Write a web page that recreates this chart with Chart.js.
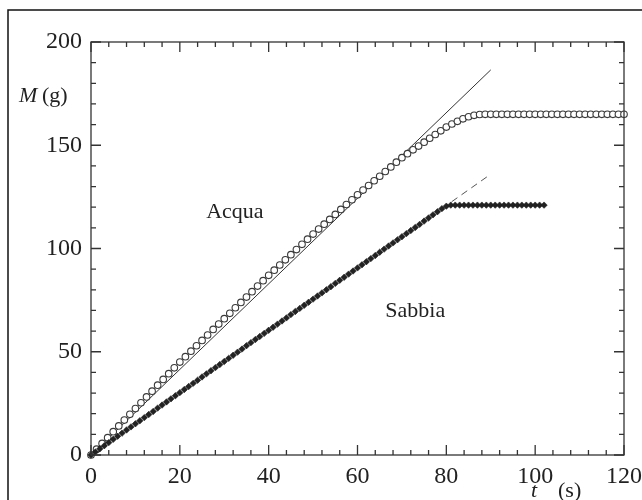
<!DOCTYPE html>
<html>
<head>
<meta charset="utf-8">
<script src="https://cdn.jsdelivr.net/npm/chart.js@4"></script>
<style>
  body { margin: 0; background: #fff; }
  #myChart { display: block; }
</style>
</head>
<body>
<canvas id="myChart" width="642" height="500"></canvas>
<script>
// dati
const xTicks = [0, 20, 40, 60, 80, 100, 120];
const yTicks = [0, 50, 100, 150, 200];
const xMinorStep = 4;
const yMinorStep = 10;

// Acqua: un punto ogni 1.25 s
const acquaStep = 1.25;
const acquaM = [
  0, 2.8, 5.6, 8.4, 11.3, 14.1, 16.9, 19.7, 22.5, 25.3, 28.1, 30.9, 33.8, 36.6, 39.4, 42.2,
  45.0, 47.6, 50.3, 52.9, 55.5, 58.1, 60.8, 63.4, 66.0, 68.6, 71.3, 73.9, 76.5, 79.1, 81.8, 84.4,
  87.0, 89.5, 92.0, 94.5, 97.0, 99.5, 102.0, 104.5, 107.0, 109.4, 111.8, 114.1, 116.5, 118.9, 121.3, 123.6,
  126.0, 128.3, 130.5, 132.8, 135.0, 137.3, 139.5, 141.8, 144.0, 145.9, 147.8, 149.6, 151.5, 153.4, 155.2, 157.0,
  158.8, 160.3, 161.6, 162.8, 163.8, 164.5, 164.9, 165, 165, 165, 165, 165, 165, 165, 165, 165,
  165, 165, 165, 165, 165, 165, 165, 165, 165, 165, 165, 165, 165, 165, 165, 165, 165
];

// Sabbia: un punto al secondo
const sabbiaStep = 1;
const sabbiaM = [
  0, 1.5, 3.0, 4.5, 6.0, 7.6, 9.1, 10.6, 12.1, 13.6, 15.1, 16.6, 18.1, 19.6, 21.1, 22.7,
  24.2, 25.7, 27.2, 28.7, 30.2, 31.7, 33.2, 34.7, 36.2, 37.8, 39.3, 40.8, 42.3, 43.8, 45.3, 46.8,
  48.3, 49.8, 51.3, 52.9, 54.4, 55.9, 57.4, 58.9, 60.4, 61.9, 63.4, 64.9, 66.4, 68.0, 69.5, 71.0,
  72.5, 74.0, 75.5, 77.0, 78.5, 80.0, 81.5, 83.1, 84.6, 86.1, 87.6, 89.1, 90.6, 92.1, 93.6, 95.1,
  96.6, 98.2, 99.7, 101.2, 102.7, 104.2, 105.7, 107.2, 108.7, 110.2, 111.7, 113.3, 114.8, 116.3, 117.8, 119.3,
  120.5, 121, 121, 121, 121, 121, 121, 121, 121, 121, 121, 121, 121, 121, 121, 121,
  121, 121, 121, 121, 121, 121, 121
];

// rette di fit
const acquaFitT = [0, 90];
const acquaFitM = [0, 186.5];
const sabbiaFitT = [79, 90];
const sabbiaFitM = [119.3, 136];

const labels = [
  { text: 'Acqua', t: 32.4, m: 117.5 },
  { text: 'Sabbia', t: 73, m: 69.5 }
];

const serif = '"Liberation Serif", "DejaVu Serif", serif';

function toPoints(step, vals){
  return vals.map((v, i) => ({ x: i * step, y: v }));
}
function pairPoints(ts, ms){
  return ts.map((t, i) => ({ x: t, y: ms[i] }));
}

// cornice, tacche interne e testi
const decor = {
  id: 'decor',
  beforeDraw(chart){
    const ctx = chart.ctx;
    ctx.save();
    ctx.strokeStyle = '#111';
    ctx.lineWidth = 1.5;
    ctx.beginPath();
    ctx.moveTo(8, 500);
    ctx.lineTo(8, 10);
    ctx.lineTo(642, 10);
    ctx.stroke();
    ctx.restore();
  },
  afterDatasetsDraw(chart){
    const ctx = chart.ctx;
    const a = chart.chartArea;
    const xs = chart.scales.x, ys = chart.scales.y;
    ctx.save();
    ctx.strokeStyle = '#333';
    ctx.lineWidth = 1.3;
    ctx.strokeRect(a.left, a.top, a.right - a.left, a.bottom - a.top);
    ctx.beginPath();
    for (let v = xs.min; v <= xs.max; v += xMinorStep){
      const p = xs.getPixelForValue(v);
      const len = xTicks.includes(v) ? 10 : 5;
      ctx.moveTo(p, a.bottom); ctx.lineTo(p, a.bottom - len);
      ctx.moveTo(p, a.top); ctx.lineTo(p, a.top + len);
    }
    for (let v = ys.min; v <= ys.max; v += yMinorStep){
      const p = ys.getPixelForValue(v);
      const len = yTicks.includes(v) ? 10 : 5;
      ctx.moveTo(a.left, p); ctx.lineTo(a.left + len, p);
      ctx.moveTo(a.right, p); ctx.lineTo(a.right - len, p);
    }
    ctx.stroke();

    ctx.fillStyle = '#222';
    ctx.textBaseline = 'middle';
    ctx.textAlign = 'center';
    ctx.font = '22px ' + serif;
    labels.forEach(l => {
      ctx.fillText(l.text, xs.getPixelForValue(l.t), ys.getPixelForValue(l.m));
    });

    // titoli degli assi
    ctx.textAlign = 'left';
    ctx.font = 'italic 22px ' + serif;
    ctx.fillText('M', 19, 96);
    ctx.font = '22px ' + serif;
    ctx.fillText('(g)', 42, 96);
    ctx.font = 'italic 22px ' + serif;
    ctx.fillText('t', 531, 491);
    ctx.font = '22px ' + serif;
    ctx.fillText('(s)', 558, 491);
    ctx.restore();
  }
};

const ctx = document.getElementById('myChart').getContext('2d');

const myChart = new Chart(ctx, {
  type: 'scatter',
  data: {
    datasets: [
      {
        data: pairPoints(acquaFitT, acquaFitM),
        showLine: true,
        borderColor: '#333',
        borderWidth: 1,
        pointRadius: 0,
        order: 3
      },
      {
        data: pairPoints(sabbiaFitT, sabbiaFitM),
        showLine: true,
        borderColor: '#555',
        borderWidth: 1,
        borderDash: [7, 5],
        pointRadius: 0,
        order: 3
      },
      {
        data: toPoints(acquaStep, acquaM),
        pointStyle: 'circle',
        pointRadius: 3.3,
        pointBorderWidth: 1.1,
        pointBorderColor: '#3a3a3a',
        pointBackgroundColor: '#fff',
        order: 2
      },
      {
        data: toPoints(sabbiaStep, sabbiaM),
        pointStyle: 'rectRot',
        pointRadius: 3.2,
        pointBorderWidth: 0.6,
        pointBorderColor: '#1a1a1a',
        pointBackgroundColor: '#222',
        order: 1
      }
    ]
  },
  options: {
    responsive: false,
    animation: false,
    clip: false,
    layout: { padding: { top: 42, right: 18, left: 0, bottom: 0 } },
    plugins: { legend: { display: false }, tooltip: { enabled: false } },
    scales: {
      x: {
        type: 'linear',
        min: 0,
        max: 120,
        afterFit(scale){
          scale.height = 45;
          scale.paddingLeft = 0;
          scale.paddingRight = 0;
        },
        afterBuildTicks(scale){ scale.ticks = xTicks.map(v => ({ value: v })); },
        grid: { display: false, drawTicks: false },
        border: { display: false },
        ticks: {
          padding: 7,
          color: '#222',
          maxRotation: 0,
          font: { family: serif, size: 24 }
        }
      },
      y: {
        type: 'linear',
        min: 0,
        max: 200,
        afterFit(scale){
          scale.width = 91;
          scale.paddingTop = 0;
          scale.paddingBottom = 0;
        },
        afterBuildTicks(scale){ scale.ticks = yTicks.map(v => ({ value: v })); },
        grid: { display: false, drawTicks: false },
        border: { display: false },
        ticks: {
          padding: 9,
          color: '#222',
          font: { family: serif, size: 24 }
        }
      }
    }
  },
  plugins: [decor]
});
</script>
</body>
</html>
